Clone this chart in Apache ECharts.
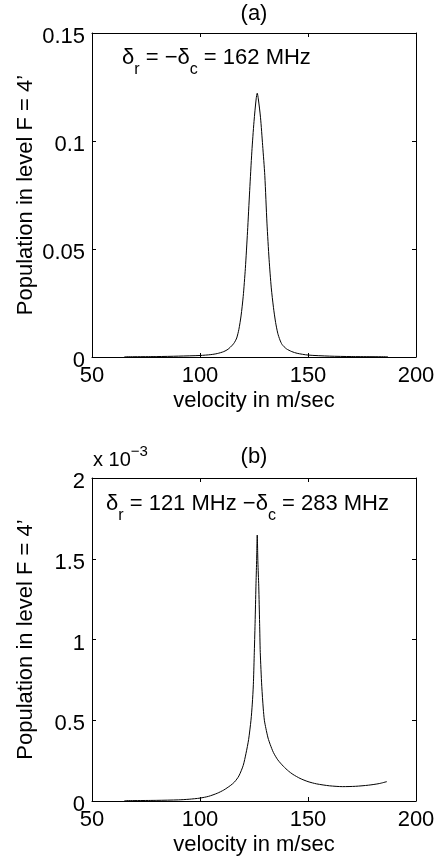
<!DOCTYPE html>
<html>
<head>
<meta charset="utf-8">
<script src="https://cdn.jsdelivr.net/npm/echarts@6/dist/echarts.min.js"></script>
<style>html,body{margin:0;padding:0;background:#fff;}#c{width:440px;height:863px;}</style>
</head>
<body>
<div id="c"></div>
<script>
// ---- data ----
const xTicks = [50, 100, 150, 200];
const topYTicks = [0, 0.05, 0.1, 0.15];
const botYTicks = [0, 0.5, 1, 1.5, 2];

const topV = [65, 80, 90, 100, 105, 108, 111, 113, 115, 116, 117, 118, 119, 120, 121, 122, 123, 124, 125, 126, 126.5, 127, 128, 129, 130, 131, 132, 133, 134, 135, 136, 137, 138, 140, 142.5, 145, 150, 160, 170, 187];
const topY = [0.0001, 0.0002, 0.0004, 0.0007, 0.0011, 0.0016, 0.0025, 0.0036, 0.0055, 0.0068, 0.0088, 0.0128, 0.019, 0.028, 0.041, 0.058, 0.077, 0.095, 0.109, 0.1195, 0.1221, 0.1195, 0.111, 0.098, 0.084, 0.062, 0.045, 0.032, 0.023, 0.016, 0.011, 0.0079, 0.0058, 0.0038, 0.0025, 0.0017, 0.0009, 0.0004, 0.0002, 0.0001];

const botV = [65, 80, 90, 95, 100, 104, 108, 111, 114, 116, 118, 120, 121.3, 122.5, 123.6, 124.2, 124.7, 125.1, 125.5, 125.9, 126.2, 126.5, 126.8, 127.2, 127.6, 127.9, 128.6, 129.3, 129.8, 130.5, 131.5, 132.5, 134, 136, 138.6, 141, 143, 146.3, 150, 154, 160, 166, 172, 178, 183, 186.5];
const botY = [0.002, 0.004, 0.007, 0.011, 0.018, 0.029, 0.048, 0.068, 0.095, 0.118, 0.155, 0.22, 0.295, 0.38, 0.50, 0.60, 0.72, 0.90, 1.10, 1.33, 1.48, 1.647, 1.48, 1.33, 1.10, 0.92, 0.71, 0.57, 0.50, 0.45, 0.39, 0.35, 0.30, 0.255, 0.215, 0.185, 0.165, 0.14, 0.12, 0.106, 0.094, 0.089, 0.091, 0.098, 0.108, 0.12];

const panelTitles = ['(a)', '(b)'];
const xName = 'velocity in m/sec';
const yName = "Population in level F = 4\u2019";

// ---- chart ----
const FONT = "'Liberation Sans', Arial, Helvetica, sans-serif";
const FS = 22;
const black = '#000';

function xAxes(gi) {
  const common = {
    type: 'value', gridIndex: gi, min: xTicks[0], max: xTicks[xTicks.length - 1], interval: 50,
    splitLine: {show: false},
    axisLine: {show: true, onZero: false, lineStyle: {color: black, width: 1}},
    axisTick: {show: true, inside: true, length: 4, lineStyle: {color: black, width: 1}}
  };
  return [
    Object.assign({}, common, {
      position: 'bottom',
      axisLabel: {color: black, fontSize: FS, fontFamily: FONT, margin: 8},
      name: xName, nameLocation: 'middle', nameGap: 33,
      nameTextStyle: {color: black, fontSize: FS, fontFamily: FONT}
    }),
    Object.assign({}, common, {position: 'top', axisLabel: {show: false}})
  ];
}
function yAxes(gi, ticks, interval) {
  const common = {
    type: 'value', gridIndex: gi, min: ticks[0], max: ticks[ticks.length - 1], interval: interval,
    splitLine: {show: false},
    axisLine: {show: true, onZero: false, lineStyle: {color: black, width: 1}},
    axisTick: {show: true, inside: true, length: 4, lineStyle: {color: black, width: 1}}
  };
  return [
    Object.assign({}, common, {
      position: 'left',
      axisLabel: {color: black, fontSize: FS, fontFamily: FONT, margin: 7, verticalAlign: 'top', lineHeight: 8},
      name: yName, nameLocation: 'middle', nameGap: 55, nameRotate: 90, nameMoveOverlap: false,
      nameTextStyle: {color: black, fontSize: FS, fontFamily: FONT}
    }),
    Object.assign({}, common, {position: 'right', axisLabel: {show: false}})
  ];
}

const subRich = {
  m: {fontSize: FS, fontFamily: FONT, lineHeight: 31, verticalAlign: 'top', fill: black},
  s: {fontSize: 16, fontFamily: FONT, lineHeight: 16, verticalAlign: 'bottom', fill: black}
};

const chart = echarts.init(document.getElementById('c'), null, {renderer: 'canvas'});
const option = {
  backgroundColor: '#fff',
  animation: false,
  title: [
    {text: panelTitles[0], left: 254, top: 3, textAlign: 'center', padding: 0,
     textStyle: {color: black, fontSize: FS, fontWeight: 'normal', fontFamily: FONT}},
    {text: panelTitles[1], left: 254, top: 446, textAlign: 'center', padding: 0,
     textStyle: {color: black, fontSize: FS, fontWeight: 'normal', fontFamily: FONT}}
  ],
  grid: [
    {left: 92, top: 33, width: 324, height: 324},
    {left: 92, top: 478, width: 324, height: 323}
  ],
  xAxis: [].concat(xAxes(0), xAxes(1)),
  yAxis: [].concat(yAxes(0, topYTicks, 0.05), yAxes(1, botYTicks, 0.5)),
  series: [
    {type: 'line', xAxisIndex: 0, yAxisIndex: 0, showSymbol: false, smooth: 0.25,
     lineStyle: {color: black, width: 1}, data: topV.map((v, i) => [v, topY[i]])},
    {type: 'line', xAxisIndex: 2, yAxisIndex: 2, showSymbol: false, smooth: 0.25,
     lineStyle: {color: black, width: 1}, data: botV.map((v, i) => [v, botY[i]])}
  ],
  graphic: [
    {type: 'text', left: 122, top: 47, z: 10, style: {
      text: '{m|\u03b4}{s|r}{m| = \u2212\u03b4}{s|c}{m| = 162 MHz}',
      font: FS + 'px ' + FONT, fill: black, rich: subRich
    }},
    {type: 'text', left: 106, top: 493, z: 10, style: {
      text: '{m|\u03b4}{s|r}{m| = 121 MHz \u2212\u03b4}{s|c}{m| = 283 MHz}',
      font: FS + 'px ' + FONT, fill: black, rich: subRich
    }},
    {type: 'text', left: 93, top: 444, z: 10, style: {
      text: '{m|x 10}{p|\u22123}',
      font: '20px ' + FONT, fill: black,
      rich: {
        m: {fontSize: 20, fontFamily: FONT, lineHeight: 26, verticalAlign: 'bottom', fill: black},
        p: {fontSize: 15, fontFamily: FONT, lineHeight: 15, verticalAlign: 'top', fill: black}
      }
    }}
  ]
};
chart.setOption(option);
</script>
</body>
</html>
